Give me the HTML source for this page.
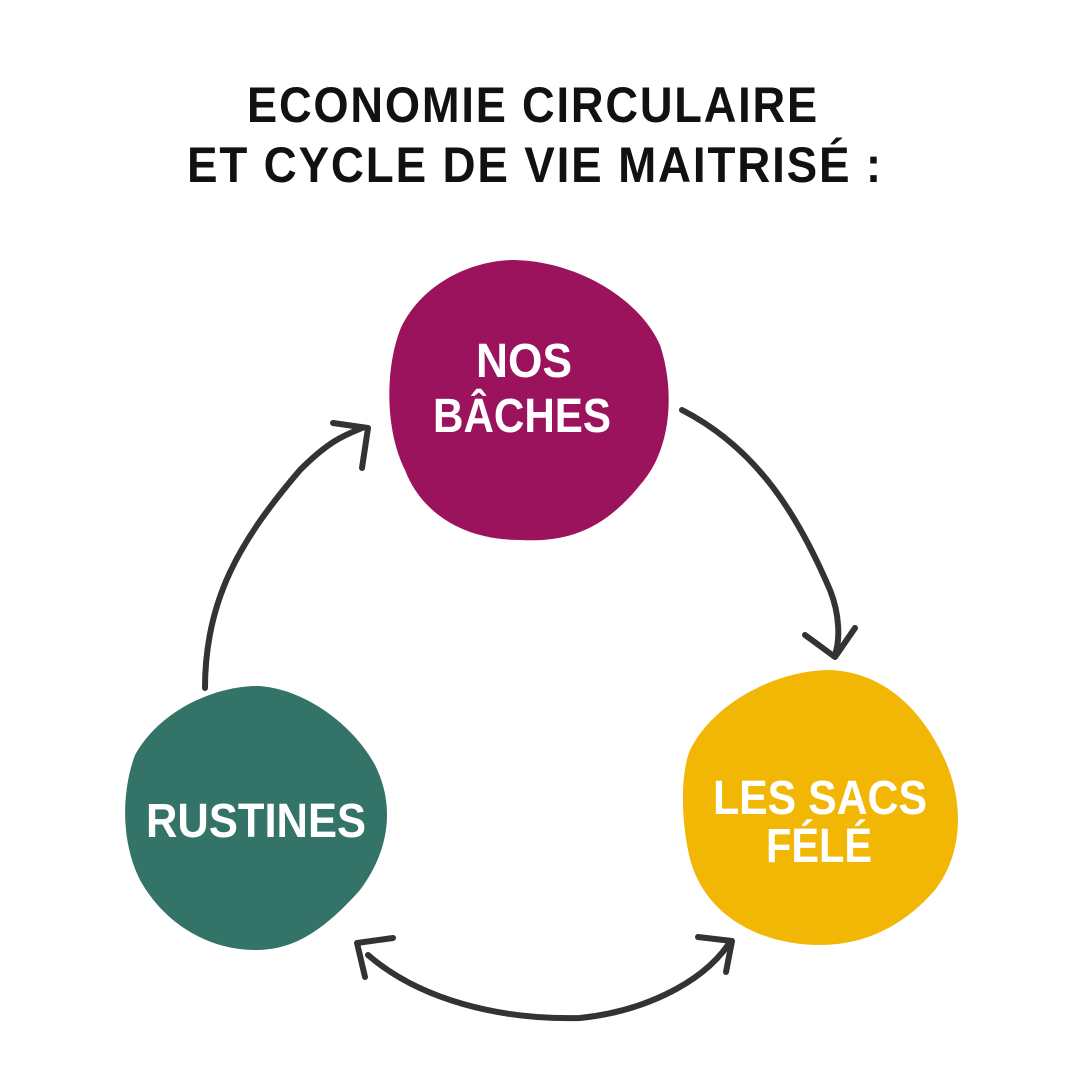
<!DOCTYPE html>
<html><head><meta charset="utf-8"><style>
body{margin:0;background:#fff;}
svg{display:block}
text{font-family:"Liberation Sans",sans-serif;font-weight:bold;}
</style></head><body>
<svg width="1080" height="1080" viewBox="0 0 1080 1080">
<rect width="1080" height="1080" fill="#fff"/>
<text x="533" y="122" text-anchor="middle" font-size="50" fill="#111" letter-spacing="2" textLength="572" lengthAdjust="spacingAndGlyphs">ECONOMIE CIRCULAIRE</text>
<text x="535" y="182" text-anchor="middle" font-size="50" fill="#111" letter-spacing="2" textLength="696" lengthAdjust="spacingAndGlyphs">ET CYCLE DE VIE MAITRISÉ :</text>

<path d="M515 260 C580 262 640 300 660 345 C675 390 672 450 640 485 C600 535 560 542 520 540 C460 540 420 510 405 470 C385 430 385 370 400 330 C420 285 470 260 515 260 Z" fill="#9c135d"/>
<path d="M258 686 C300 688 350 720 375 765 C395 805 390 850 360 890 C320 935 290 950 255 950 C210 950 165 925 140 880 C120 840 122 790 135 755 C160 710 215 686 258 686 Z" fill="#337368"/>
<path d="M830 670 C880 672 920 705 945 760 C965 805 962 855 935 890 C900 930 860 945 820 945 C760 945 700 915 688 850 C680 810 682 770 690 750 C715 700 780 670 830 670 Z" fill="#f2b705"/>

<g fill="#fff" text-anchor="middle" font-size="48">
<text x="524" y="377" textLength="96" lengthAdjust="spacingAndGlyphs">NOS</text>
<text x="522" y="432" textLength="178" lengthAdjust="spacingAndGlyphs">BÂCHES</text>
<text x="256" y="837" textLength="220" lengthAdjust="spacingAndGlyphs">RUSTINES</text>
<text x="820" y="814" textLength="214" lengthAdjust="spacingAndGlyphs">LES SACS</text>
<text x="819" y="862" textLength="106" lengthAdjust="spacingAndGlyphs">FÉLÉ</text>
</g>

<g fill="none" stroke="#333" stroke-width="6" stroke-linecap="round" stroke-linejoin="round">
<path d="M682 410 C760 450 800 520 830 590 C840 615 840 640 835 655"/>
<path d="M805 635 L835 657 L855 628"/>
<path d="M205 688 C205 600 240 540 300 470 C330 440 345 435 362 428"/>
<path d="M333 423 L368 428 L362 468"/>
<path d="M368 955 C420 1000 500 1020 580 1018 C640 1012 700 985 728 945"/>
<path d="M393 938 L357 943 L365 977"/>
<path d="M698 937 L732 941 L726 972"/>
</g>
</svg>
</body></html>
